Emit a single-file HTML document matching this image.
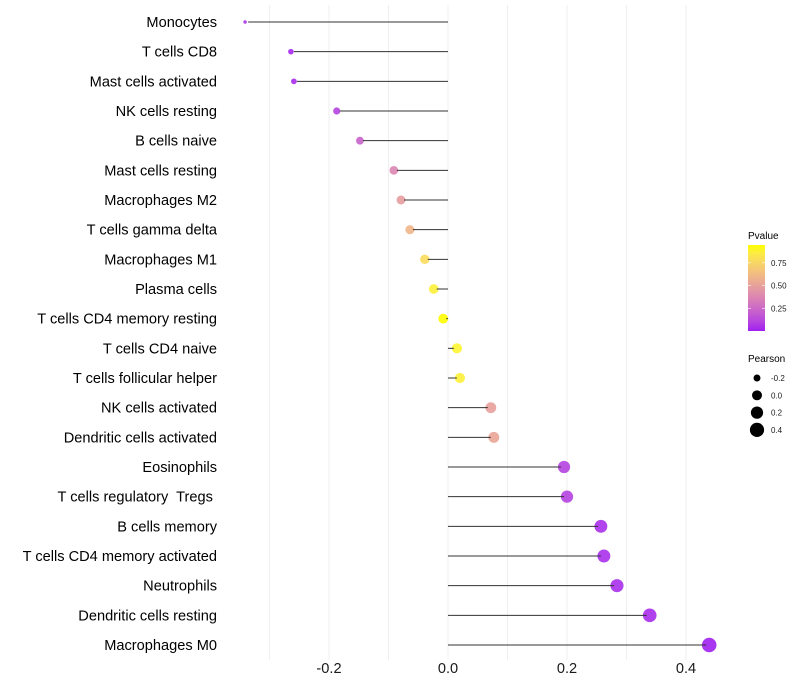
<!DOCTYPE html>
<html><head><meta charset="utf-8"><style>
body{margin:0;background:#fff;}
svg{display:block;font-family:"Liberation Sans",sans-serif;}
#ylabels text{white-space:pre;}
</style></head><body>
<svg id="chart" width="800" height="700" viewBox="0 0 800 700">
<defs><linearGradient id="pg" x1="0" y1="1" x2="0" y2="0"></linearGradient></defs>
<g id="grid"></g>
<g id="marks"></g>
<g id="ylabels"></g>
<g id="xlabels"></g>
<g>
<text x="748" y="239" font-size="10" fill="#000">Pvalue</text>
<rect x="748" y="245" width="17" height="86" fill="url(#pg)"/>
<g id="cbticks"></g>
</g>
<g>
<text x="748" y="362" font-size="10" fill="#000">Pearson</text>
<g id="sizeleg"></g>
</g>
</svg>
<script>
const categories=["Monocytes","T cells CD8","Mast cells activated","NK cells resting","B cells naive","Mast cells resting","Macrophages M2","T cells gamma delta","Macrophages M1","Plasma cells","T cells CD4 memory resting","T cells CD4 naive","T cells follicular helper","NK cells activated","Dendritic cells activated","Eosinophils","T cells regulatory  Tregs ","B cells memory","T cells CD4 memory activated","Neutrophils","Dendritic cells resting","Macrophages M0"];
const pearson=[-0.341,-0.264,-0.259,-0.187,-0.148,-0.091,-0.079,-0.064,-0.039,-0.024,-0.008,0.015,0.020,0.072,0.077,0.195,0.200,0.257,0.262,0.284,0.339,0.439];
const pvalue=[0.05,0.02,0.03,0.1,0.22,0.38,0.48,0.6,0.78,0.88,0.946,0.9,0.88,0.5,0.52,0.1,0.1,0.04,0.04,0.04,0.03,0.0];
const xTicks=[-0.2,0,0.2,0.4];
const xTickLabels=["-0.2","0.0","0.2","0.4"];
const xGrid=[-0.3,-0.2,-0.1,0,0.1,0.2,0.3,0.4];
const cbTicks=[0.25,0.5,0.75];
const cbTickLabels=["0.25","0.50","0.75"];
const sizeLegVals=[-0.2,0,0.2,0.4];
const sizeLegLabels=["-0.2","0.0","0.2","0.4"];

const NS="http://www.w3.org/2000/svg";
const x=v=>448+v*595;
const y=i=>22+i*(623/(categories.length-1));
const pmin=0,pmax=0.946;
function s2l(c){c/=255;return c<=0.04045?c/12.92:Math.pow((c+0.055)/1.055,2.4);}
function l2s(c){c=c<=0.0031308?12.92*c:1.055*Math.pow(c,1/2.4)-0.055;return Math.round(Math.max(0,Math.min(1,c))*255);}
function toLab(r,g,b){r=s2l(r);g=s2l(g);b=s2l(b);
 let X=(0.4124*r+0.3576*g+0.1805*b)/0.95047,Y=(0.2126*r+0.7152*g+0.0722*b),Z=(0.0193*r+0.1192*g+0.9505*b)/1.08883;
 const f=t=>t>0.008856?Math.cbrt(t):7.787*t+16/116;X=f(X);Y=f(Y);Z=f(Z);
 return [116*Y-16,500*(X-Y),200*(Y-Z)];}
function fromLab(L,a,b){let Y=(L+16)/116,X=a/500+Y,Z=Y-b/200;
 const fi=t=>t*t*t>0.008856?t*t*t:(t-16/116)/7.787;X=fi(X)*0.95047;Y=fi(Y);Z=fi(Z)*1.08883;
 const r=3.2406*X-1.5372*Y-0.4986*Z,g=-0.9689*X+1.8758*Y+0.0415*Z,bb=0.0557*X-0.2040*Y+1.0570*Z;
 return `rgb(${l2s(r)},${l2s(g)},${l2s(bb)})`;}
const LA=toLab(160,32,240),LB=toLab(255,255,0);
const colT=t=>fromLab(LA[0]+(LB[0]-LA[0])*t,LA[1]+(LB[1]-LA[1])*t,LA[2]+(LB[2]-LA[2])*t);
const col=p=>colT(Math.max(0,Math.min(1,(p-pmin)/(pmax-pmin))));
const grad=document.getElementById('pg');
for(let k=0;k<=10;k++){const s=document.createElementNS(NS,'stop');s.setAttribute('offset',k/10);s.setAttribute('stop-color',colT(k/10));grad.appendChild(s);}
const vmin=Math.min(...pearson),vmax=Math.max(...pearson);
const rad=v=>Math.sqrt(3+(v-vmin)/(vmax-vmin)*50);
function mk(tag,attrs,parent){const e=document.createElementNS(NS,tag);for(const k in attrs)e.setAttribute(k,attrs[k]);parent.appendChild(e);return e;}
const grid=document.getElementById('grid'),marks=document.getElementById('marks'),yl=document.getElementById('ylabels'),xl=document.getElementById('xlabels');
xGrid.forEach(v=>{const l=mk('line',{x1:x(v),x2:x(v),y1:5,y2:660,stroke:'#ebebeb','stroke-width':0.8},grid);

});
categories.forEach((c,i)=>{
 const v=pearson[i];
 const pt=mk('circle',{cx:x(v),cy:y(i),r:rad(v),fill:col(pvalue[i]),'fill-opacity':0.9},marks);
 
 
 const end=x(v)-Math.sign(v)*Math.min(3,Math.abs(x(v)-x(0)));
 const ln=mk('line',{x1:x(0),x2:end,y1:y(i),y2:y(i),stroke:'#333','stroke-width':1},marks);
 
 
 const t=mk('text',{x:217,y:y(i)+5,'text-anchor':'end','font-size':14.6,fill:'#000'},yl);
 t.textContent=c;
 
 
});
xTicks.forEach((v,i)=>{const t=mk('text',{x:x(v),y:673,'text-anchor':'middle','font-size':14.6,fill:'#1a1a1a'},xl);
t.textContent=xTickLabels[i];

});
const cb=document.getElementById('cbticks');
cbTicks.forEach((p,i)=>{const yy=331-(p-pmin)/(pmax-pmin)*86;
 mk('line',{x1:748,x2:751,y1:yy,y2:yy,stroke:'#fff','stroke-width':0.6},cb);
 mk('line',{x1:762,x2:765,y1:yy,y2:yy,stroke:'#fff','stroke-width':0.6},cb);
 const t=mk('text',{x:771,y:yy+3,'font-size':8,fill:'#1a1a1a'},cb);t.textContent=cbTickLabels[i];
 
 });
const sl=document.getElementById('sizeleg');
sizeLegVals.forEach((v,i)=>{const yy=378+i*17.3;
 const c=mk('circle',{cx:757,cy:yy,r:rad(v),fill:'#000'},sl);
 
 
 const t=mk('text',{x:771,y:yy+3,'font-size':8,fill:'#1a1a1a'},sl);t.textContent=sizeLegLabels[i];
 
 });
</script>
</body></html>
